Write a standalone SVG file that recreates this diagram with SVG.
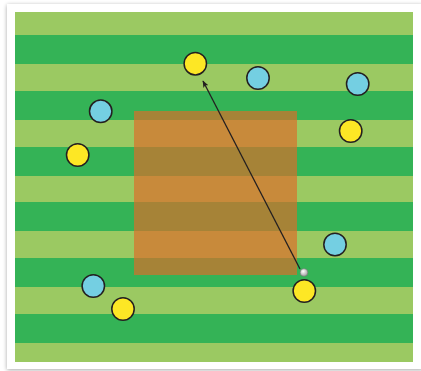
<svg xmlns="http://www.w3.org/2000/svg" width="421" height="371" viewBox="0 0 421 371">
<defs>
<filter id="sh" x="-5%" y="-5%" width="110%" height="110%"><feGaussianBlur in="SourceAlpha" stdDeviation="2"/><feOffset dx="0" dy="1"/><feComponentTransfer><feFuncA type="linear" slope="0.35"/></feComponentTransfer><feMerge><feMergeNode/><feMergeNode in="SourceGraphic"/></feMerge></filter>
<marker id="ah" viewBox="0 0 10 10" refX="9" refY="5" markerWidth="7" markerHeight="7" markerUnits="userSpaceOnUse" orient="auto"><path d="M0,1 L10,5 L0,9 L2,5 Z" fill="#231f20"/></marker>
<radialGradient id="bg" cx="0.4" cy="0.35" r="0.7"><stop offset="0" stop-color="#ffffff"/><stop offset="1" stop-color="#9a9a9a"/></radialGradient>
</defs>
<style>
.light{fill:#9bc962}.dark{fill:#34b356}
.y{fill:#fde725;stroke:#231f20;stroke-width:1.5}
.b{fill:#74cfe2;stroke:#231f20;stroke-width:1.5}
</style>
<rect x="0" y="0" width="421" height="371" fill="#ffffff"/>
<rect x="7" y="4" width="416" height="365" fill="#ffffff" filter="url(#sh)"/>
<g id="field">
<rect class="light" x="15" y="12" width="398" height="350"/>
<rect class="dark" x="15" y="35" width="398" height="29"/>
<rect class="dark" x="15" y="91" width="398" height="29"/>
<rect class="dark" x="15" y="147" width="398" height="29"/>
<rect class="dark" x="15" y="202" width="398" height="29"/>
<rect class="dark" x="15" y="258" width="398" height="29"/>
<rect class="dark" x="15" y="314" width="398" height="29"/>
</g>
<g id="zone"><rect x="134" y="111" width="163" height="164" fill="#dd6b2a" fill-opacity="0.68"/></g>
<g id="connectors"><line x1="300" y1="269" x2="203" y2="81" stroke="#231f20" stroke-width="1.3" marker-end="url(#ah)"/></g>
<g id="ball"><circle cx="304" cy="272.5" r="3.8" fill="url(#bg)" stroke="#777" stroke-width="0.6"/></g>
<g id="yellow1"><circle class="y" cx="195.3" cy="63.7" r="11.2"/></g>
<g id="yellow2"><circle class="y" cx="350.7" cy="131" r="11.2"/></g>
<g id="yellow3"><circle class="y" cx="77.7" cy="155" r="11.2"/></g>
<g id="yellow4"><circle class="y" cx="304.3" cy="291" r="11.2"/></g>
<g id="yellow5"><circle class="y" cx="123" cy="309" r="11.2"/></g>
<g id="blue1"><circle class="b" cx="258" cy="78" r="11.2"/></g>
<g id="blue2"><circle class="b" cx="357.7" cy="84" r="11.2"/></g>
<g id="blue3"><circle class="b" cx="100.7" cy="111.3" r="11.2"/></g>
<g id="blue4"><circle class="b" cx="335" cy="244.5" r="11.2"/></g>
<g id="blue5"><circle class="b" cx="93.3" cy="286" r="11.2"/></g>
</svg>
